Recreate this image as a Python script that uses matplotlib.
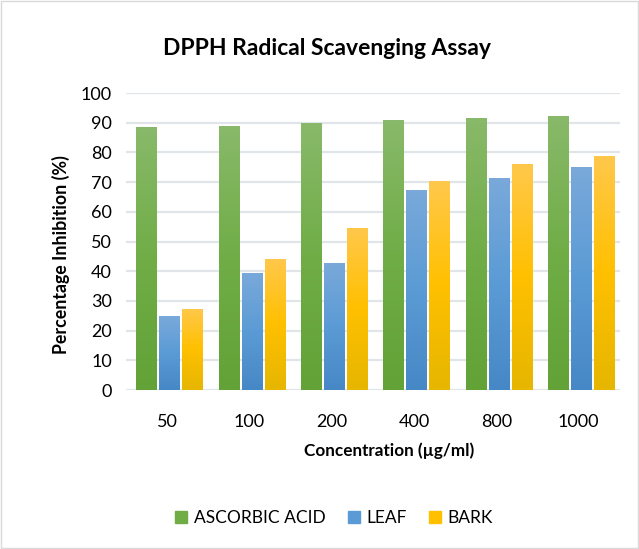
import matplotlib
matplotlib.use("Agg")
import matplotlib.pyplot as plt
import numpy as np
from matplotlib.colors import LinearSegmentedColormap
from matplotlib.patches import Rectangle

categories = ["50", "100", "200", "400", "800", "1000"]
series_names = ["ASCORBIC ACID", "LEAF", "BARK"]
ascorbic = [88.6, 89.0, 90.0, 91.0, 91.7, 92.4]
leaf = [24.9, 39.5, 42.9, 67.4, 71.5, 75.2]
bark = [27.3, 44.2, 54.6, 70.4, 76.2, 78.9]
yticks = [0, 10, 20, 30, 40, 50, 60, 70, 80, 90, 100]

values = [ascorbic, leaf, bark]
grads = [
    ["#89b96a", "#70ad47", "#62a236"],
    ["#7aa9da", "#5b9bd5", "#4688c6"],
    ["#ffc84c", "#ffc000", "#e6b600"],
]
solid = ["#70ad47", "#5b9bd5", "#ffc000"]

FONT = "Lato"
plt.rcParams['font.family'] = [FONT, 'DejaVu Sans']

fig = plt.figure(figsize=(6.39, 5.49), dpi=100)
ax = fig.add_axes([0.197, 0.2896, 0.773, 0.541])

x = np.arange(len(categories))
width = 0.245
offsets = [-0.28, 0.0, 0.28]
grad_img = np.linspace(0, 1, 256).reshape(-1, 1)

for vals, off, g, c, name in zip(values, offsets, grads, solid, series_names):
    cmap = LinearSegmentedColormap.from_list(name, g)
    bars = ax.bar(x + off + 0.03, vals, width, color=c, label=name, zorder=3, linewidth=0)
    for b in bars:
        bx, by = b.get_x(), b.get_y()
        bw, bh = b.get_width(), b.get_height()
        im = ax.imshow(grad_img, cmap=cmap, aspect='auto',
                       extent=[bx, bx + bw, by, by + bh], origin='upper',
                       zorder=4)
        im.set_clip_path(b)

ax.set_xlim(-0.5, len(categories) - 0.5)
ax.set_ylim(0, 100)
ax.set_yticks(yticks)
ax.set_xticks(x)
ax.set_xticklabels(categories)
ax.tick_params(axis='both', length=0, labelsize=13, colors='#000000')
ax.tick_params(axis='x', pad=17)
ax.tick_params(axis='y', pad=10)
ax.yaxis.grid(True, color='#e1e4e8', linewidth=1.6, zorder=0)
ax.set_axisbelow(True)
for s in ax.spines.values():
    s.set_visible(False)

ax.set_ylabel("Percentage Inhibition (%)", fontsize=12.8, fontweight='bold')
ax.yaxis.set_label_coords(-0.113, 0.455)
ax.set_xlabel("Concentration (µg/ml)", fontsize=12.3, fontweight='bold')
ax.xaxis.set_label_coords(0.532, -0.178)

fig.text(0.5125, 0.8998, "DPPH Radical Scavenging Assay", ha='center', va='baseline',
         fontsize=16.5, fontweight='bold')

handles = [Rectangle((0, 0), 1, 1, color=c) for c in solid]
fig.legend(handles, series_names, loc='center', bbox_to_anchor=(0.523, 0.056),
           ncol=3, frameon=False, fontsize=12.5, handlelength=0.69, handleheight=0.69,
           columnspacing=1.26, handletextpad=0.4)

fig.patches.append(Rectangle((0.002, 0.002), 0.996, 0.996, transform=fig.transFigure,
                             fill=False, edgecolor='#d9d9d9', linewidth=1))

fig.savefig("out.png", dpi=100)
